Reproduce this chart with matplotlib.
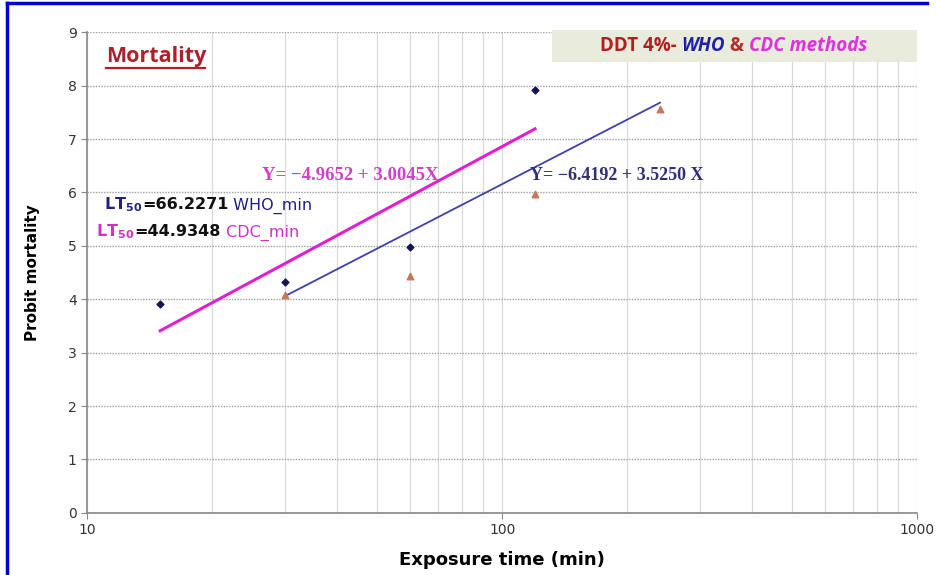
import matplotlib.pyplot as plt
from matplotlib.lines import Line2D

# exposure times (min) and probit mortality
who_time = [15, 30, 60, 120]
who_probit = [3.91, 4.33, 4.97, 7.92]
cdc_time = [30, 60, 120, 240]
cdc_probit = [4.08, 4.44, 5.97, 7.57]

# regression line end points as drawn
who_fit_time = [30, 240]
who_fit_probit = [4.06, 7.68]
cdc_fit_time = [15, 120]
cdc_fit_probit = [3.41, 7.19]

y_ticks = list(range(0, 10))
x_ticks = [10, 100, 1000]

fig = plt.figure(figsize=(9.36, 5.75), dpi=100)
renderer = fig.canvas.get_renderer()
ax = fig.add_axes([0.093, 0.108, 0.887, 0.836])
ax.set_xscale("log")
ax.set_xlim(10, 1000)
ax.set_ylim(0, 9)
ax.set_yticks(y_ticks)
ax.set_xticks(x_ticks)
ax.set_xticklabels([str(t) for t in x_ticks])
ax.minorticks_on()
ax.tick_params(axis="x", which="minor", length=0)
ax.tick_params(axis="y", which="minor", left=False)
ax.tick_params(axis="both", which="major", labelsize=10, labelcolor="#333333",
               color="#888888", length=4)

ax.grid(axis="x", which="both", color="#d9d9d9", lw=0.9, ls="-")
ax.grid(axis="y", which="major", color="#a0a0a0", lw=1.0, ls=(0, (1, 1)))
ax.set_axisbelow(True)
for side in ("top", "right"):
    ax.spines[side].set_visible(False)
for side in ("left", "bottom"):
    ax.spines[side].set_color("#888888")
    ax.spines[side].set_linewidth(1.2)

ax.plot(cdc_fit_time, cdc_fit_probit, color="#e020d0", lw=2.2, zorder=3)
ax.plot(who_fit_time, who_fit_probit, color="#4040a8", lw=1.3, zorder=3)
ax.scatter(who_time, who_probit, marker="D", s=12, color="#141450", zorder=4)
ax.scatter(cdc_time, cdc_probit, marker="^", s=22, color="#c8785a", zorder=4)

ax.set_xlabel("Exposure time (min)", fontsize=13, fontweight="bold", labelpad=10)
ax.set_ylabel("Probit mortality", fontsize=11, fontweight="bold", labelpad=20)


def rich_text(x, y, parts, va="baseline", zorder=6):
    """Place differently styled pieces of text one after another (figure coords)."""
    for txt, kw in parts:
        t = fig.text(x, y, txt, va=va, zorder=zorder, **kw)
        bb = t.get_window_extent(renderer)
        x += bb.width / fig.bbox.width


# title-like label
fig.text(0.167, 0.901, "Mortality", fontsize=15.5, fontweight="bold",
         color="#b0202a", ha="center", va="center", family="Open Sans", zorder=6)
fig.add_artist(Line2D([0.113, 0.219], [0.881, 0.881], transform=fig.transFigure,
                      color="#b0202a", lw=1.6))

# legend-like box
fig.patches.append(plt.Rectangle((0.59, 0.892), 0.39, 0.056, transform=fig.transFigure,
                                 facecolor="#e9ecdc", edgecolor="none", zorder=5))
box_style = dict(fontsize=13.5, fontweight="bold", family="Open Sans")
rich_text(0.641, 0.920, [
    ("DDT 4%- ", dict(color="#b02020", **box_style)),
    ("WHO", dict(color="#2020b0", style="italic", **box_style)),
    (" & ", dict(color="#b03030", **box_style)),
    ("CDC methods", dict(color="#e030e0", style="italic", **box_style)),
], va="center")

# regression equations
fig.text(0.374, 0.694, "Y= \u22124.9652 + 3.0045X", fontsize=13.5, color="#d040c8",
         family="Liberation Serif", fontweight="bold", ha="center", va="center", zorder=6)
fig.text(0.659, 0.694, "Y= \u22126.4192 + 3.5250 X", fontsize=13, color="#30307a",
         family="Liberation Serif", fontweight="bold", ha="center", va="center", zorder=6)

# LT50 labels
lt_who = dict(fontsize=11.5, fontweight="bold")
rich_text(0.111, 0.636, [
    (r"$\mathbf{LT_{50}}$", dict(color="#202080", fontsize=11.5)),
    ("=66.2271", dict(color="#111111", **lt_who)),
    (" WHO_min", dict(color="#202080", fontsize=11.5)),
])
rich_text(0.103, 0.589, [
    (r"$\mathbf{LT_{50}}$", dict(color="#d030c8", fontsize=11.5)),
    ("=44.9348", dict(color="#111111", **lt_who)),
    (" CDC_min", dict(color="#d030c8", fontsize=11.5)),
])

# outer blue frame (top and left)
fig.add_artist(Line2D([0.007, 0.99], [0.994, 0.994], transform=fig.transFigure,
                      color="#0000dd", lw=2.5))
fig.add_artist(Line2D([0.007, 0.007], [0.0, 0.994], transform=fig.transFigure,
                      color="#0000dd", lw=2.5))

fig.savefig("out.png", dpi=100)
